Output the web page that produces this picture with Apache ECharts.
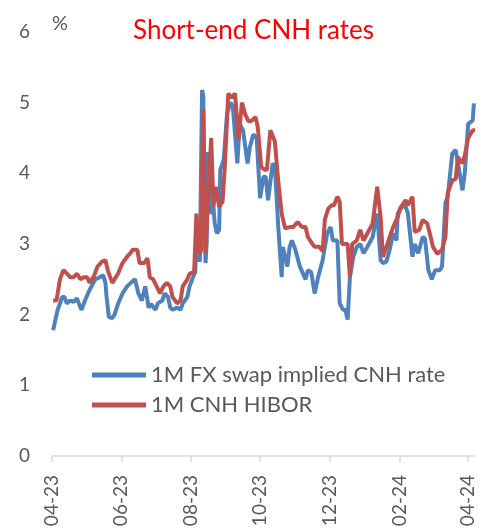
<!DOCTYPE html>
<html>
<head>
<meta charset="utf-8">
<script src="https://cdn.jsdelivr.net/npm/echarts@6/dist/echarts.min.js"></script>
<style>html,body{margin:0;padding:0;background:#fff}#c{width:485px;height:530px}</style>
</head>
<body>
<div id="c"></div>
<script>
const tickDates = ['2023-04-01','2023-06-01','2023-08-01','2023-10-01','2023-12-01','2024-02-01','2024-04-01'];
const tickLabels = ['04-23','06-23','08-23','10-23','12-23','02-24','04-24'];
const seriesNames = ['1M FX swap implied CNH rate','1M CNH HIBOR'];

const blueDates = ['2023-04-02','2023-04-04','2023-04-06','2023-04-10','2023-04-12','2023-04-14','2023-04-17','2023-04-20','2023-04-23','2023-04-26','2023-04-27','2023-04-30',
'2023-05-04','2023-05-09','2023-05-13','2023-05-16','2023-05-18','2023-05-19','2023-05-21','2023-05-24','2023-05-26','2023-05-29',
'2023-06-02','2023-06-06','2023-06-10','2023-06-13','2023-06-16','2023-06-19','2023-06-22','2023-06-25','2023-06-27',
'2023-07-01','2023-07-03','2023-07-07','2023-07-09','2023-07-12','2023-07-14','2023-07-16','2023-07-20','2023-07-23','2023-07-25','2023-07-29','2023-07-31',
'2023-08-03','2023-08-05','2023-08-06','2023-08-08','2023-08-09','2023-08-11','2023-08-12','2023-08-14','2023-08-15','2023-08-16','2023-08-18','2023-08-21','2023-08-22','2023-08-24','2023-08-26','2023-08-27','2023-08-30',
'2023-09-02','2023-09-05','2023-09-07','2023-09-11','2023-09-13','2023-09-16','2023-09-20','2023-09-22','2023-09-25','2023-09-28',
'2023-10-01','2023-10-04','2023-10-06','2023-10-08','2023-10-12','2023-10-14','2023-10-17','2023-10-20','2023-10-21','2023-10-25','2023-10-27','2023-10-29',
'2023-11-01','2023-11-05','2023-11-10','2023-11-12','2023-11-15','2023-11-18','2023-11-21','2023-11-25','2023-11-29',
'2023-12-02','2023-12-04','2023-12-08','2023-12-10','2023-12-13','2023-12-15','2023-12-17','2023-12-19','2023-12-22','2023-12-25','2023-12-28','2023-12-31',
'2024-01-03','2024-01-08','2024-01-12','2024-01-15','2024-01-17','2024-01-20','2024-01-23','2024-01-26','2024-01-29','2024-01-30',
'2024-02-03','2024-02-06','2024-02-08','2024-02-12','2024-02-14','2024-02-17','2024-02-21','2024-02-23','2024-02-26','2024-02-29',
'2024-03-03','2024-03-07','2024-03-09','2024-03-12','2024-03-14','2024-03-18','2024-03-21','2024-03-23','2024-03-27','2024-03-29',
'2024-04-01','2024-04-05','2024-04-06'];
const blueValues = [1.78,1.93,2.07,2.25,2.25,2.16,2.2,2.18,2.23,2.1,2.07,2.2,
2.35,2.5,2.53,2.56,2.45,2.25,1.97,1.95,2.0,2.15,
2.3,2.4,2.46,2.5,2.3,2.2,2.4,2.1,2.15,
2.07,2.16,2.2,2.3,2.25,2.1,2.07,2.1,2.07,2.16,2.25,2.4,
2.53,2.6,3.2,2.8,2.75,5.18,5.1,2.73,3.0,4.3,3.43,3.53,3.3,3.15,3.2,4.05,4.19,
4.85,5.0,4.95,4.14,4.7,4.61,4.14,4.37,4.55,4.5,
3.65,3.95,3.95,3.62,4.14,4.1,3.24,2.53,2.96,2.68,2.96,3.05,
2.92,2.68,2.5,2.63,2.6,2.3,2.53,2.77,3.15,
3.24,3.05,3.05,2.16,2.07,2.07,1.93,2.53,2.82,2.96,3.0,2.87,
2.95,3.1,3.43,2.77,2.73,2.75,2.92,3.15,3.05,3.43,
3.53,3.53,3.43,2.82,3.0,2.87,3.1,3.08,2.63,2.5,
2.63,2.63,2.68,3.58,3.67,4.28,4.33,4.14,3.76,4.0,
4.7,4.75,4.99];

const redDates = ['2023-04-02','2023-04-05','2023-04-08','2023-04-11','2023-04-13','2023-04-17','2023-04-20','2023-04-23','2023-04-26','2023-04-29',
'2023-05-02','2023-05-04','2023-05-08','2023-05-11','2023-05-15','2023-05-18','2023-05-20','2023-05-24','2023-05-26','2023-05-29',
'2023-06-02','2023-06-06','2023-06-09','2023-06-11','2023-06-15','2023-06-17','2023-06-21','2023-06-24','2023-06-26','2023-06-29',
'2023-07-02','2023-07-05','2023-07-08','2023-07-11','2023-07-14','2023-07-16','2023-07-20','2023-07-23','2023-07-25','2023-07-29','2023-07-31',
'2023-08-04','2023-08-06','2023-08-08','2023-08-10','2023-08-12','2023-08-14','2023-08-16','2023-08-19','2023-08-21','2023-08-23','2023-08-26','2023-08-29','2023-08-31',
'2023-09-03','2023-09-06','2023-09-09','2023-09-12','2023-09-15','2023-09-18','2023-09-21','2023-09-24','2023-09-27','2023-09-29',
'2023-10-02','2023-10-05','2023-10-07','2023-10-10','2023-10-14','2023-10-17','2023-10-20','2023-10-23','2023-10-27','2023-10-30',
'2023-11-03','2023-11-07','2023-11-10','2023-11-12','2023-11-16','2023-11-18','2023-11-22','2023-11-25','2023-11-27','2023-11-30',
'2023-12-03','2023-12-05','2023-12-08','2023-12-10','2023-12-12','2023-12-17','2023-12-19','2023-12-21','2023-12-25','2023-12-28','2023-12-31',
'2024-01-04','2024-01-08','2024-01-12','2024-01-15','2024-01-17','2024-01-20','2024-01-23','2024-01-26','2024-01-30',
'2024-02-01','2024-02-06','2024-02-08','2024-02-12','2024-02-14','2024-02-18','2024-02-21','2024-02-25','2024-02-28',
'2024-03-01','2024-03-05','2024-03-09','2024-03-12','2024-03-14','2024-03-18','2024-03-21','2024-03-23','2024-03-27','2024-03-29',
'2024-04-01','2024-04-05','2024-04-07'];
const redValues = [2.2,2.2,2.5,2.63,2.6,2.53,2.53,2.58,2.5,2.53,
2.53,2.45,2.55,2.68,2.75,2.77,2.63,2.45,2.5,2.58,
2.73,2.82,2.87,2.92,2.92,2.73,2.73,2.8,2.53,2.5,
2.4,2.3,2.4,2.45,2.4,2.25,2.16,2.2,2.4,2.5,2.58,
2.6,3.43,2.87,2.9,4.9,2.87,3.53,4.5,3.53,3.81,3.53,3.6,4.1,
5.13,5.07,5.13,4.47,5.0,4.83,4.73,4.75,4.8,4.65,
4.09,4.05,4.05,4.61,4.45,3.88,3.43,3.22,3.24,3.24,
3.31,3.24,3.24,3.1,3.0,2.96,2.96,2.9,3.35,3.5,
3.55,3.55,3.67,3.6,3.0,3.0,2.53,3.0,3.05,3.2,3.05,
3.17,3.29,3.81,3.38,2.82,2.95,3.1,3.24,3.38,
3.5,3.62,3.55,3.67,3.17,3.2,3.34,3.29,3.1,
2.96,2.86,2.92,3.1,3.72,3.9,3.92,4.23,4.14,4.25,
4.5,4.61,4.61];

function ts(s){const p=s.split('-').map(Number);return new Date(p[0],p[1]-1,p[2]).getTime();}
const tickTs = tickDates.map(ts);
const FONT = 'Lato';
const grey = '#595959';

const chart = echarts.init(document.getElementById('c'), null, {renderer:'canvas'});
chart.setOption({
  animation:false,
  textStyle:{fontFamily:FONT},
  title:{text:'Short-end CNH rates',left:128,top:13,textStyle:{color:'#FF0000',fontSize:26,fontWeight:'normal',fontFamily:FONT}},
  grid:{left:52,right:10,top:32,bottom:74,containLabel:false},
  legend:{orient:'vertical',left:92,top:364,padding:0,icon:'rect',itemWidth:54,itemHeight:5,itemGap:8,
    textStyle:{color:grey,fontSize:22,fontFamily:FONT},data:seriesNames},
  xAxis:{type:'value',min:ts('2023-04-01'),max:ts('2024-04-07'),
    axisLine:{lineStyle:{color:'#D9D9D9',width:1.5}},
    axisTick:{show:true,length:6,lineStyle:{color:'#D9D9D9',width:1.5},customValues:tickTs},
    axisLabel:{customValues:tickTs,rotate:90,margin:19,color:grey,fontSize:19,fontFamily:FONT,
      formatter:function(v){const i=tickTs.indexOf(v);return i>=0?tickLabels[i]:'';}},
    splitLine:{show:false}},
  yAxis:{type:'value',min:0,max:6,interval:1,
    name:'%',nameLocation:'end',nameGap:-2,nameTextStyle:{color:grey,fontSize:20,align:'left',verticalAlign:'bottom',fontFamily:FONT},
    axisLine:{show:false},axisTick:{show:false},splitLine:{show:false},
    axisLabel:{color:grey,fontSize:19,margin:22,fontFamily:FONT}},
  series:[
    {name:seriesNames[0],type:'line',symbol:'none',data:blueDates.map((d,i)=>[ts(d),blueValues[i]]),
      lineStyle:{color:'#4F81BD',width:4},itemStyle:{color:'#4F81BD'}},
    {name:seriesNames[1],type:'line',symbol:'none',data:redDates.map((d,i)=>[ts(d),redValues[i]]),
      lineStyle:{color:'#C0504D',width:4},itemStyle:{color:'#C0504D'}}
  ]
});
</script>
</body>
</html>
